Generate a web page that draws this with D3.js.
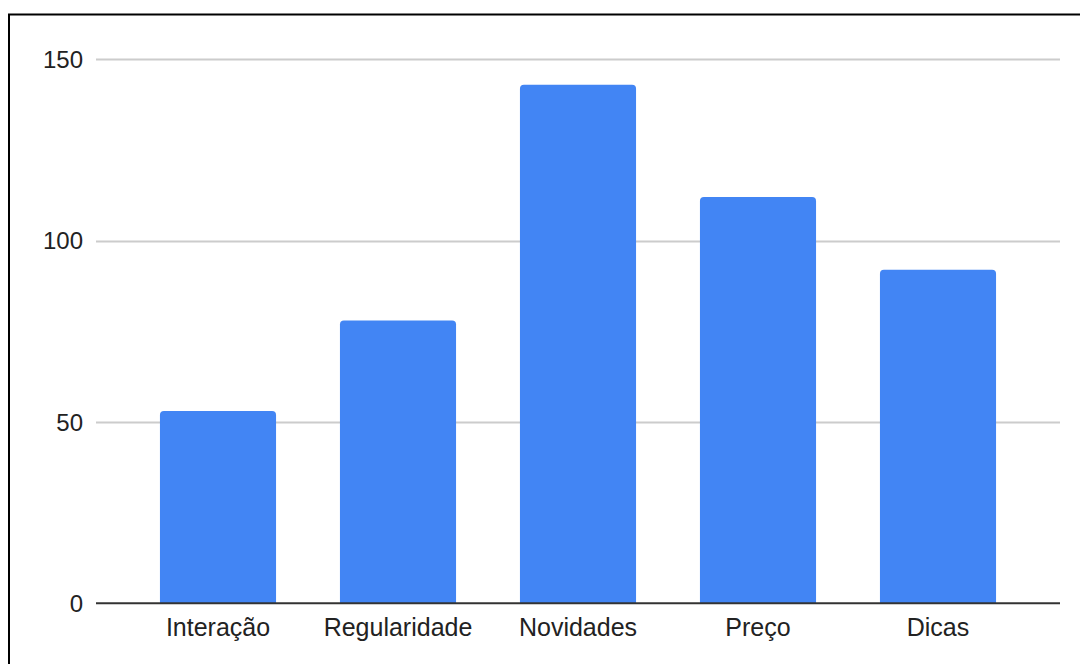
<!DOCTYPE html>
<html><head><meta charset="utf-8">
<script src="https://cdn.jsdelivr.net/npm/d3@7"></script>
<style>html,body{margin:0;padding:0;background:#fff;}svg{display:block;}</style>
</head><body>
<svg id="c" width="1080" height="664"></svg>
<script>
const categories = ["Interação", "Regularidade", "Novidades", "Preço", "Dicas"];
const values = [53, 78, 143, 112, 92];
const yTicks = [0, 50, 100, 150];

const svg = d3.select("#c");
const W = 1080, H = 664;
svg.append("rect").attr("width", W).attr("height", H).attr("fill", "#fff");
// outer frame (extends beyond right/bottom)
svg.append("rect").attr("x", 9).attr("y", 14.5).attr("width", 1200).attr("height", 800)
  .attr("fill", "none").attr("stroke", "#000").attr("stroke-width", 2);

const gridX0 = 96, gridX1 = 1060;
const y = d3.scaleLinear().domain([0, 150]).range([603.3, 59.3]);
const x = d3.scaleBand().domain(categories).range([128, 1028]).paddingInner(0.355).paddingOuter(0.1775);

const font = "'Liberation Sans', Arial, sans-serif";

// gridlines
svg.append("g").selectAll("line").data(yTicks.filter(d => d > 0)).join("line")
  .attr("x1", gridX0).attr("x2", gridX1)
  .attr("y1", d => Math.round(y(d)) + 0.5).attr("y2", d => Math.round(y(d)) + 0.5)
  .attr("stroke", "#cccccc").attr("stroke-width", 2);

// y labels
svg.append("g").selectAll("text").data(yTicks).join("text")
  .attr("x", 83).attr("y", d => y(d)).attr("dy", "0.36em")
  .attr("text-anchor", "end").attr("font-family", font).attr("font-size", 24)
  .attr("fill", "#222").text(d => d);

// bars with rounded top corners
const r = 4;
svg.append("g").selectAll("path").data(values).join("path")
  .attr("fill", "#4285F4")
  .attr("d", (d, i) => {
    const x0 = x(categories[i]), w = x.bandwidth(), top = y(d), bot = y(0);
    return `M${x0},${bot}V${top + r}Q${x0},${top} ${x0 + r},${top}H${x0 + w - r}Q${x0 + w},${top} ${x0 + w},${top + r}V${bot}Z`;
  });

// baseline
svg.append("line").attr("x1", gridX0).attr("x2", gridX1)
  .attr("y1", y(0)).attr("y2", y(0)).attr("stroke", "#333").attr("stroke-width", 2);

// x labels
svg.append("g").selectAll("text").data(categories).join("text")
  .attr("x", d => x(d) + x.bandwidth() / 2).attr("y", 635.5)
  .attr("text-anchor", "middle").attr("font-family", font).attr("font-size", 25)
  .attr("fill", "#222").text(d => d);
</script>
</body></html>
